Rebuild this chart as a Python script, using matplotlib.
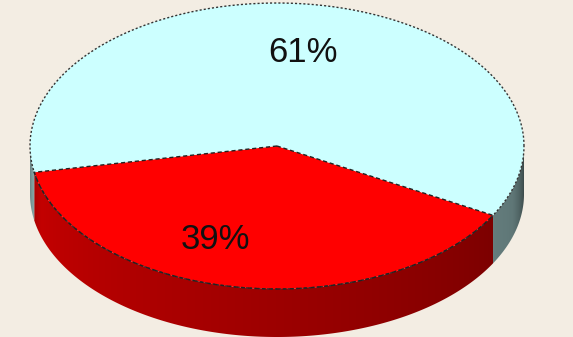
import numpy as np
import matplotlib
matplotlib.use('Agg')
import matplotlib.pyplot as plt
from matplotlib.patches import Polygon

# ── data ────────────────────────────────────────────────────
labels = ['39%', '61%']
shares = [39, 61]
colors = ['#ff0000', '#ccffff']
start_deg = 190.6          # red wedge starts at the left, goes counter-clockwise

# ── layout (pixels) ─────────────────────────────────────────
W, H = 573, 337
cx, cy = 277, 146
rx, ry = 247, 143
depth = 48
bg = '#f3ede3'
label_dx = [-36, 0]

fig = plt.figure(figsize=(W / 100, H / 100), dpi=100, facecolor=bg)
ax = fig.add_axes([0, 0, 1, 1])
ax.set_xlim(0, W)
ax.set_ylim(H, 0)
ax.axis('off')
ax.set_facecolor(bg)


def pt(t, dy=0.0, r=1.0):
    return cx + r * rx * np.cos(t), cy - r * ry * np.sin(t) + dy


def shade(t):
    deg = np.degrees(t) % 360
    f = 0.8 - 0.37 * (deg - 180) / 180
    facing = -np.sin(t)
    return f * (0.6 + 0.4 * np.minimum(1.0, facing / 0.3))


fracs = np.array(shares) / sum(shares)
bounds = np.radians(start_deg + 360 * np.concatenate([[0], np.cumsum(fracs)]))

# ── side walls (front half only), gradient image clipped to each wall ──
px = np.arange(W) + 0.5
u = np.clip((px - cx) / rx, -1, 1)
t_col = -np.arccos(u)                  # angle of the front wall under each column
f_col = shade(t_col)

for i, col in enumerate(colors):
    a0, a1 = bounds[i], bounds[i + 1]
    base = np.array(matplotlib.colors.to_rgb(col))
    row = np.clip(base[None, :] * f_col[:, None], 0, 1)
    img = np.repeat(row[None, :, :], H, axis=0)
    for k in (0, 1):                   # front half, and again one turn later
        lo = max(a0, np.pi + 2 * np.pi * k)
        hi = min(a1, 2 * np.pi + 2 * np.pi * k)
        if lo >= hi:
            continue
        ts = np.linspace(lo, hi, 300)
        top = list(zip(*pt(ts)))
        bot = list(zip(*pt(ts[::-1], depth)))
        clip = Polygon(top + bot, closed=True, facecolor='none',
                       edgecolor='none', transform=ax.transData)
        ax.add_patch(clip)
        im = ax.imshow(img, extent=(0, W, H, 0), origin='upper',
                       interpolation='nearest', zorder=1)
        im.set_clip_path(clip)
ax.set_xlim(0, W)
ax.set_ylim(H, 0)

# ── top faces ───────────────────────────────────────────────
for i, col in enumerate(colors):
    ts = np.linspace(bounds[i], bounds[i + 1], 300)
    xs, ys = pt(ts)
    verts = [(cx, cy)] + list(zip(xs, ys))
    ax.add_patch(Polygon(verts, closed=True, facecolor=col,
                         edgecolor='none', zorder=3))

# outlines
ts = np.linspace(0, 2 * np.pi, 600)
xs, ys = pt(ts)
ax.plot(xs, ys, color='#333333', lw=1.0, ls=(0, (1.5, 1.5)), zorder=4)
ts = np.linspace(bounds[0], bounds[1], 300)
xs, ys = pt(ts)
ax.plot(np.r_[cx, xs, cx], np.r_[cy, ys, cy], color='#222222',
        lw=1.0, ls=(0, (3, 2)), zorder=4)

# ── labels ──────────────────────────────────────────────────
for i, lab in enumerate(labels):
    tm = 0.5 * (bounds[i] + bounds[i + 1])
    x, y = pt(tm, r=0.66)
    ax.text(x + label_dx[i], y, lab, ha='center', va='center', fontsize=25,
            family='Liberation Sans', color='#111111', zorder=5)

fig.savefig('out.png', dpi=100, facecolor=bg)
